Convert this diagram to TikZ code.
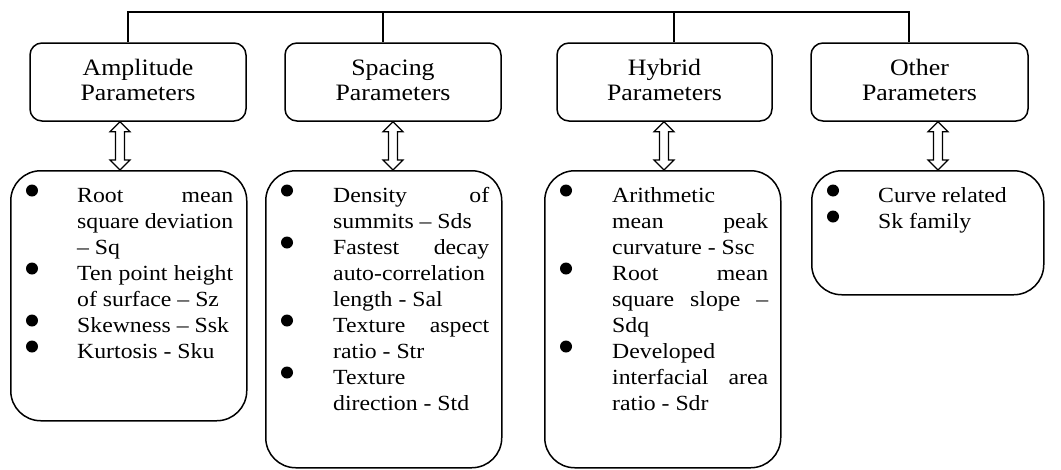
\documentclass[tikz,border=0pt]{standalone}
\usepackage{fontspec}
\setmainfont{Liberation Serif}[FakeStretch=1.1]
\usetikzlibrary{calc}
\newcommand\jl[1]{\makebox[\linewidth][s]{#1}}
\newcommand\hfont{\fontsize{23.5}{25}\selectfont}
\newcommand\bfont{\fontsize{21.6}{26}\selectfont}
\tikzset{
  hbox/.style={draw, line width=1.5pt, rounded corners=12pt, minimum width=216pt, minimum height=78pt, inner sep=0pt},
  htext/.style={anchor=base, inner sep=0pt},
  lbox/.style={draw, line width=1.5pt, rounded corners=30pt, inner sep=0pt, anchor=north west},
  ltext/.style={anchor=base west, inner sep=0pt},
  tree/.style={line width=1.5pt},
  dbl/.style={draw, line width=1.1pt, fill=white, line join=miter},
  bul/.style={fill=black}
}
\newcommand\htx[1]{\parbox[t]{210pt}{\centering\hfont #1}}
\newcommand\dblarrow[3]{%
  \path (#1,0 |- #2.south) coordinate (at) (#1,0 |- #3.north) coordinate (ab);
  \draw[dbl] (at) -- ($(at)+(10,10)$) -- ($(at)+(4.5,10)$) -- ($(ab)+(4.5,-10)$) -- ($(ab)+(10,-10)$) -- (ab)
    -- ($(ab)+(-10,-10)$) -- ($(ab)+(-4.5,-10)$) -- ($(at)+(-4.5,10)$) -- ($(at)+(-10,10)$) -- cycle;}
\begin{document}
\begin{tikzpicture}[x=1pt,y=-1pt]
\useasboundingbox (0,0) rectangle (1061,469);
% header boxes
\node[hbox] (hA) at (138,82) {};
\node[hbox] (hS) at (393,82) {};
\node[hbox, minimum width=215pt] (hH) at (664.5,82) {};
\node[hbox, minimum width=217pt] (hO) at (919.5,82) {};
\node[htext] (lA) at (hA.center |- 0,75) {\htx{Amplitude\\Parameters}};
\node[htext] (lS) at (hS.center |- 0,75) {\htx{Spacing\\Parameters}};
\node[htext] (lH) at (hH.center |- 0,75) {\htx{Hybrid\\Parameters}};
\node[htext] (lO) at (hO.center |- 0,75) {\htx{Other\\Parameters}};
% tree
\coordinate (t1) at (128,12);
\coordinate (t2) at (383,12);
\coordinate (t3) at (674,12);
\coordinate (t4) at (909,12);
\draw[tree] (t1 |- hA.north) -- (t1) -- (t4) -- (t4 |- hO.north);
\draw[tree] (t2) -- (t2 |- hS.north);
\draw[tree] (t3) -- (t3 |- hH.north);
% bottom boxes
\node[lbox, minimum width=236pt, minimum height=250pt] (bA) at (10,170) {};
\node[lbox, minimum width=236pt, minimum height=297pt] (bS) at (265,170) {};
\node[lbox, minimum width=236pt, minimum height=297pt] (bH) at (544,170) {};
\node[lbox, minimum width=232pt, minimum height=124pt] (bO) at (811,170) {};
% arrows
\dblarrow{120}{hA}{bA}
\dblarrow{393}{hS}{bS}
\dblarrow{664}{hH}{bH}
\dblarrow{938}{hO}{bO}
% texts
\node[ltext] (xA) at (77,202) {\parbox[t]{156pt}{\bfont
\jl{Root mean}\\
\jl{square deviation}\\
– Sq\\
\jl{Ten point height}\\
of surface – Sz\\
Skewness – Ssk\\
Kurtosis - Sku}};
\node[ltext] (xS) at (333,202) {\parbox[t]{156pt}{\bfont
\jl{Density of}\\
summits – Sds\\
\jl{Fastest decay}\\
auto-correlation\\
length - Sal\\
\jl{Texture aspect}\\
ratio - Str\\
Texture\\
direction - Std}};
\node[ltext] (xH) at (612,202) {\parbox[t]{156pt}{\bfont
Arithmetic\\
\jl{mean peak}\\
curvature - Ssc\\
\jl{Root mean}\\
\jl{square slope –}\\
Sdq\\
Developed\\
\jl{interfacial area}\\
ratio - Sdr}};
\node[ltext] (xO) at (878,202) {\parbox[t]{156pt}{\bfont
Curve related\\
Sk family}};
% bullets
\foreach \y in {202,280,332,358} \fill[bul] (32,\y-11.5) circle (6pt);
\foreach \y in {202,254,332,384} \fill[bul] (287,\y-11.5) circle (6pt);
\foreach \y in {202,280,358} \fill[bul] (566,\y-11.5) circle (6pt);
\foreach \y in {202,228} \fill[bul] (833,\y-11.5) circle (6pt);
\end{tikzpicture}
\end{document}
